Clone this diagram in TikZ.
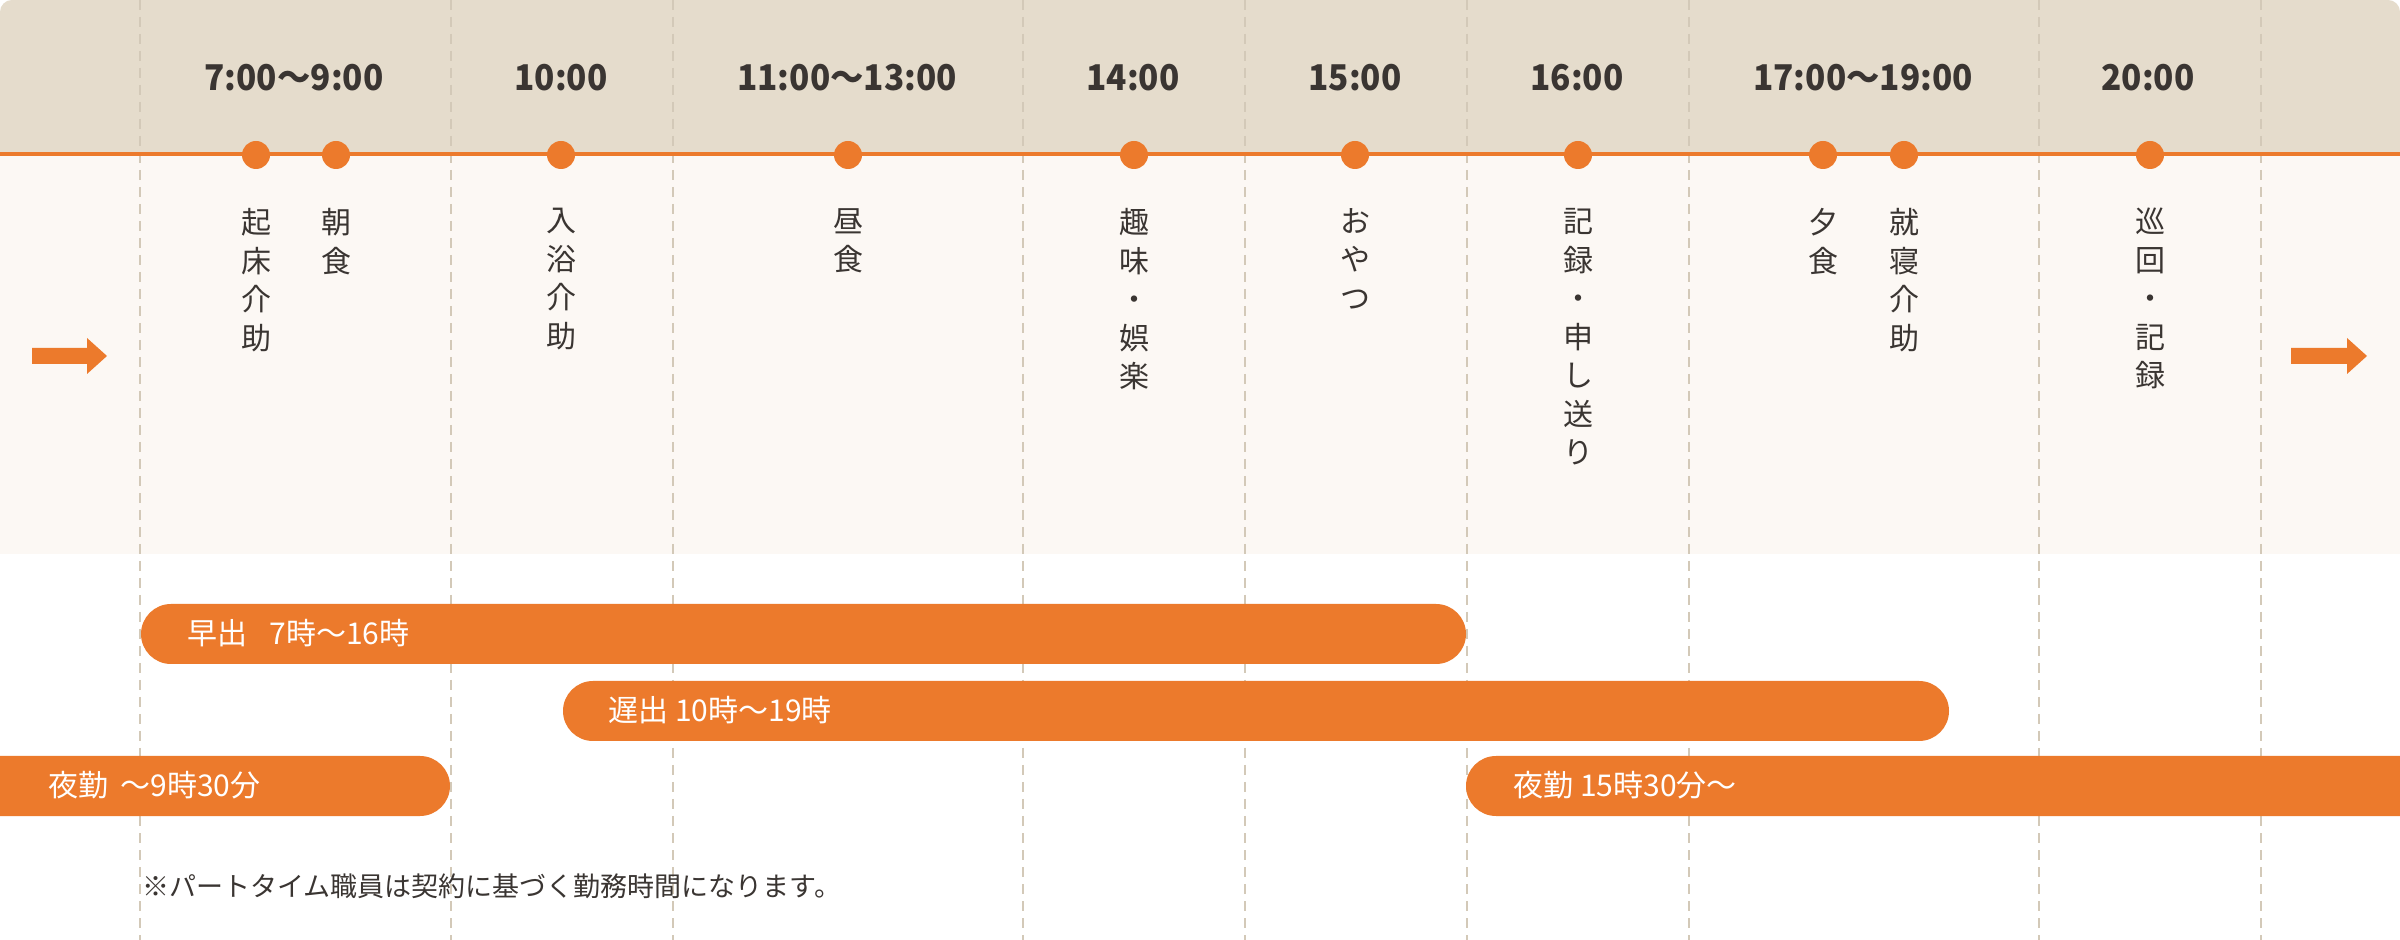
\documentclass[tikz,border=0pt]{standalone}
\usepackage{fontspec}
\setmainfont{Noto Sans CJK JP}
\newfontfamily\timefont{Noto Sans CJK JP}[FakeStretch=0.94]
\definecolor{beige}{HTML}{E5DCCC}
\definecolor{lightbg}{HTML}{FCF8F4}
\definecolor{orng}{HTML}{EC7A2C}
\definecolor{dashc}{HTML}{D3C9B8}
\definecolor{txt}{HTML}{3A3532}
\begin{document}
\begin{tikzpicture}[x=0.5pt,y=-0.5pt,
  tlab/.style={font=\timefont\fontsize{17.75}{20}\selectfont\bfseries, text=txt, inner sep=0, anchor=base},
  vlab/.style={font=\fontsize{15}{19.25}\selectfont, text=txt, inner sep=0, anchor=north, align=center},
  dot/.style={circle, fill=orng, minimum size=14pt, inner sep=0},
  gridline/.style={draw=dashc, line width=0.8pt, dash pattern=on 5pt off 3.5pt},
  blab/.style={font=\fontsize{15}{18}\selectfont, text=white, inner sep=0, anchor=base west},
  note/.style={font=\fontsize{13.5}{16}\selectfont, text=txt, inner sep=0, anchor=base west},
  bar/.style={fill=orng, rounded corners=15pt},
  arrowshape/.style={fill=orng}]
\useasboundingbox (0,0) rectangle (2400,940);
\fill[white] (0,0) rectangle (2400,940);
% background bands
\fill[beige, rounded corners=6pt] (0,0) rectangle (2400,200);
\fill[lightbg] (0,153) rectangle (2400,554);
% dashed hour lines
\foreach \x in {140,451,673,1023,1245,1467,1689,2039,2261}
  \draw[gridline] (\x,0) -- (\x,940);
% timeline
\draw[orng, line width=2pt] (0,154) -- (2400,154);
% time labels
\node[tlab] (t1) at (294,91) {7:00〜9:00};
\node[tlab] (t2) at (561,91) {10:00};
\node[tlab] (t3) at (847,91) {11:00〜13:00};
\node[tlab] (t4) at (1133,91) {14:00};
\node[tlab] (t5) at (1355,91) {15:00};
\node[tlab] (t6) at (1577,91) {16:00};
\node[tlab] (t7) at (1863,91) {17:00〜19:00};
\node[tlab] (t8) at (2148,91) {20:00};
% dots
\node[dot] (d1) at (256,155) {};
\node[dot] (d2) at (336,155) {};
\node[dot] (d3) at (561,155) {};
\node[dot] (d4) at (848,155) {};
\node[dot] (d5) at (1134,155) {};
\node[dot] (d6) at (1355,155) {};
\node[dot] (d7) at (1578,155) {};
\node[dot] (d8) at (1823,155) {};
\node[dot] (d9) at (1904,155) {};
\node[dot] (d10) at (2150,155) {};
% activities (vertical)
\node[vlab] (a1) at (256,208) {起\\床\\介\\助};
\node[vlab] (a2) at (336,208) {朝\\食};
\node[vlab] (a3) at (561,208) {入\\浴\\介\\助};
\node[vlab] (a4) at (848,208) {昼\\食};
\node[vlab] (a5) at (1134,208) {趣\\味\\・\\娯\\楽};
\node[vlab] (a6) at (1355,208) {お\\や\\つ};
\node[vlab] (a7) at (1578,208) {記\\録\\・\\申\\し\\送\\り};
\node[vlab] (a8) at (1823,208) {夕\\食};
\node[vlab] (a9) at (1904,208) {就\\寝\\介\\助};
\node[vlab] (a10) at (2150,208) {巡\\回\\・\\記\\録};
% side arrows
\fill[arrowshape] (32,348) -- (87,348) -- (87,338) -- (107,356) -- (87,374) -- (87,364) -- (32,364) -- cycle;
\fill[arrowshape] (2291,348) -- (2347,348) -- (2347,338) -- (2367,356) -- (2347,374) -- (2347,364) -- (2291,364) -- cycle;
% shift bars
\fill[bar] (141,604) rectangle (1466,664);
\node[blab] (b1) at (187,645) {早出\hspace{11pt}7時〜16時};
\fill[bar] (563,681) rectangle (1949,741);
\node[blab] (b2) at (608,722) {遅出 10時〜19時};
\fill[bar] (-80,756) rectangle (450,816);
\node[blab] (b3) at (48,797) {夜勤\hspace{6pt}〜9時30分};
\fill[bar] (1466,756) rectangle (2480,816);
\node[blab] (b4) at (1513,797) {夜勤 15時30分〜};
% note
\node[note] (n1) at (142,896) {※パートタイム職員は契約に基づく勤務時間になります。};
\end{tikzpicture}
\end{document}
